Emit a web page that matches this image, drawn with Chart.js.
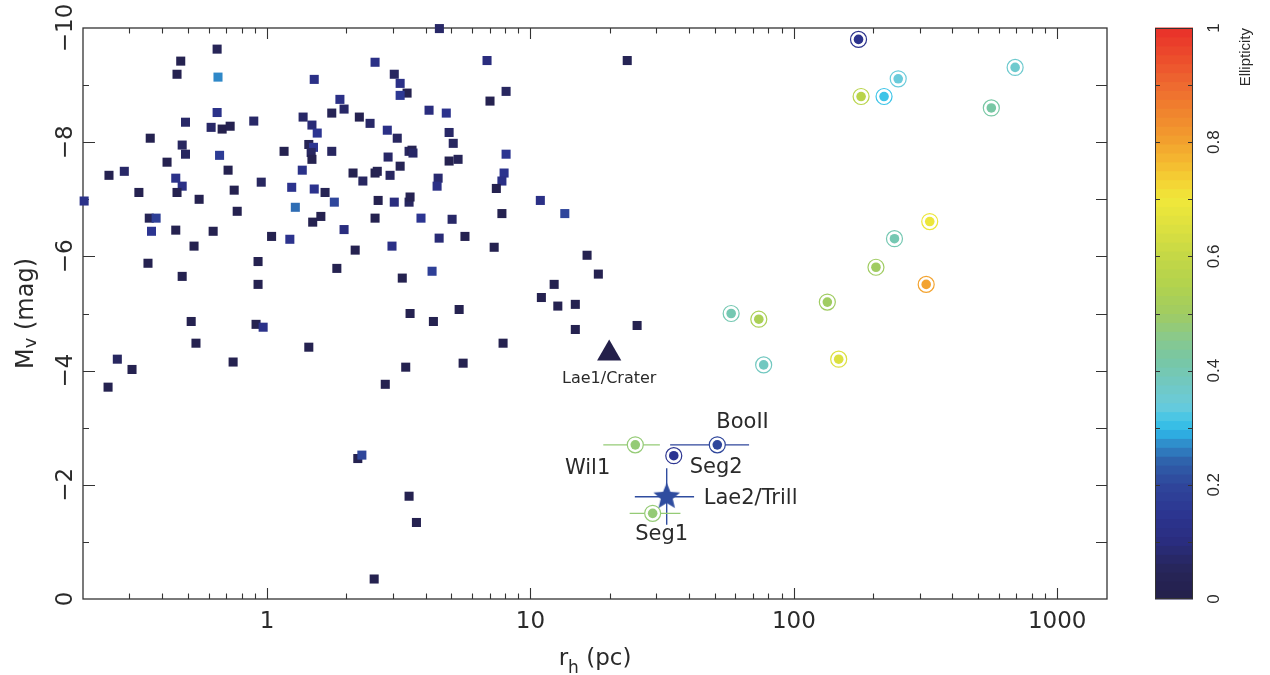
<!DOCTYPE html>
<html>
<head>
<meta charset="utf-8">
<script src="https://cdn.jsdelivr.net/npm/chart.js@4.4.1/dist/chart.umd.min.js"></script>
<style>
  html, body { margin: 0; padding: 0; background: #fff; }
  #wrap { width: 1270px; height: 675px; position: relative; }
</style>
</head>
<body>
<div id="wrap"><canvas id="chart"></canvas></div>
<script>
// globular clusters (squares): half-light radius (pc), M_V (mag), ellipticity
const clusterRh = [
  0.646, 0.47, 0.455, 0.651, 1.51, 2.57, 3.04, 3.20, 3.40, 3.20,
  1.89, 1.96, 1.76, 2.24, 2.46, 0.646, 0.49, 0.613, 0.675, 0.724,
  0.89, 1.37, 1.48, 1.55, 2.86, 3.12, 0.36, 0.476, 0.49, 1.16,
  1.44, 1.50, 1.47, 1.48, 1.76, 0.66, 0.417, 0.711, 0.251, 0.287,
  0.45, 0.476, 0.455, 0.326, 0.552, 0.75, 0.95, 1.36, 1.24, 1.51,
  1.66, 2.12, 2.31, 2.57, 2.62, 2.93, 3.20, 2.88, 3.46, 3.55,
  3.58, 0.202, 1.28, 1.80, 2.64, 3.04, 3.46, 3.49, 0.357, 0.379,
  0.364, 0.45, 0.624, 0.77, 1.49, 1.60, 2.57, 1.96, 1.22, 1.04,
  0.528, 2.16, 2.98, 0.353, 0.924, 1.84, 0.476, 0.924, 3.26, 3.49,
  0.515, 0.908, 0.966, 0.537, 0.27, 0.307, 0.249, 0.743, 1.44, 3.36,
  2.81, 2.21, 2.29, 3.46, 3.69, 2.55, 4.51, 6.84, 23.3, 8.08,
  7.02, 4.12, 4.79, 4.91, 5.09, 8.08, 4.91, 5.31, 4.46, 4.42,
  7.94, 7.79, 7.42, 3.84, 5.04, 10.9, 13.5, 7.79, 5.64, 4.50,
  7.28, 4.23, 16.4, 18.1, 12.3, 11.0, 12.7, 14.8, 5.36, 4.28,
  14.8, 25.4, 7.87, 5.55
];
const clusterMv = [
  -9.63, -9.42, -9.19, -9.14, -9.10, -9.40, -9.19, -9.03, -8.86, -8.82,
  -8.75, -8.58, -8.51, -8.44, -8.33, -8.52, -8.35, -8.26, -8.23, -8.28,
  -8.37, -8.44, -8.30, -8.16, -8.21, -8.07, -8.07, -7.95, -7.79, -7.84,
  -7.96, -7.91, -7.82, -7.70, -7.84, -7.77, -7.65, -7.51, -7.42, -7.49,
  -7.37, -7.23, -7.12, -7.12, -7.00, -7.16, -7.30, -7.51, -7.21, -7.18,
  -7.12, -7.46, -7.32, -7.46, -7.49, -7.42, -7.58, -7.74, -7.84, -7.86,
  -7.81, -6.97, -6.86, -6.95, -6.98, -6.95, -6.95, -7.04, -6.67, -6.67,
  -6.44, -6.46, -6.44, -6.79, -6.60, -6.70, -6.67, -6.47, -6.30, -6.35,
  -6.18, -6.11, -6.18, -5.88, -5.91, -5.79, -5.65, -5.51, -5.62, -5.00,
  -4.86, -4.81, -4.76, -4.48, -4.20, -4.02, -3.71, -4.15, -4.41, -4.06,
  -3.76, -2.46, -2.52, -1.80, -1.34, -0.35, -9.99, -9.43, -9.43, -8.89,
  -8.72, -8.56, -8.51, -8.17, -7.98, -7.79, -7.67, -7.70, -7.37, -7.23,
  -7.46, -7.32, -7.19, -6.67, -6.65, -6.98, -6.75, -6.75, -6.35, -6.32,
  -6.16, -5.74, -6.02, -5.69, -5.51, -5.28, -5.13, -5.16, -5.07, -4.86,
  -4.72, -4.79, -4.48, -4.13
];
const clusterEll = [
  0.05, 0.02, 0.02, 0.27, 0.12, 0.12, 0.06, 0.12, 0.02, 0.16,
  0.12, 0.07, 0.04, 0.02, 0.07, 0.13, 0.07, 0.07, 0.01, 0.02,
  0.07, 0.07, 0.09, 0.15, 0.12, 0.06, 0.02, 0.06, 0.06, 0.02,
  0.04, 0.15, 0.06, 0.02, 0.06, 0.17, 0.02, 0.02, 0.02, 0.07,
  0.13, 0.12, 0.02, 0.02, 0.02, 0.02, 0.06, 0.13, 0.14, 0.14,
  0.04, 0.02, 0.06, 0.02, 0.03, 0.06, 0.04, 0.07, 0.06, 0.03,
  0.07, 0.13, 0.25, 0.20, 0.02, 0.10, 0.06, 0.03, 0.04, 0.18,
  0.15, 0.02, 0.02, 0.02, 0.02, 0.02, 0.02, 0.10, 0.14, 0.02,
  0.02, 0.02, 0.12, 0.02, 0.02, 0.02, 0.02, 0.02, 0.02, 0.02,
  0.02, 0.02, 0.13, 0.02, 0.06, 0.02, 0.02, 0.02, 0.02, 0.02,
  0.02, 0.02, 0.20, 0.02, 0.02, 0.02, 0.07, 0.10, 0.04, 0.06,
  0.02, 0.10, 0.14, 0.07, 0.06, 0.15, 0.02, 0.05, 0.08, 0.12,
  0.14, 0.12, 0.02, 0.15, 0.07, 0.12, 0.20, 0.02, 0.02, 0.09,
  0.02, 0.18, 0.02, 0.02, 0.02, 0.02, 0.02, 0.02, 0.02, 0.02,
  0.02, 0.02, 0.02, 0.02
];

// dwarf galaxies (ringed circles)
const dwarfRh = [176, 692, 249, 180, 220, 562, 328, 241, 205, 318, 134, 57.8, 73.6, 76.8, 148];
const dwarfMv = [-9.80, -9.31, -9.11, -8.80, -8.80, -8.60, -6.61, -6.31, -5.81, -5.51, -5.20, -5.00, -4.90, -4.10, -4.20];
const dwarfEll = [0.14, 0.36, 0.34, 0.57, 0.31, 0.42, 0.69, 0.40, 0.50, 0.80, 0.50, 0.40, 0.53, 0.38, 0.65];

// named faint objects with r_h error bars
const namedLabels = ['Wil1', 'BooII', 'Seg2', 'Seg1'];
const namedRh = [25.0, 51.2, 35.0, 29.1];
const namedMv = [-2.70, -2.70, -2.51, -1.50];
const namedEll = [0.48, 0.20, 0.15, 0.48];
const namedRhLo = [18.9, 33.9, 32.9, 23.8];
const namedRhHi = [31.0, 67.6, 37.5, 37.1];

// Lae2/Trill (star) and Lae1/Crater (triangle)
const lae2Rh = 32.9, lae2Mv = -1.79, lae2Ell = 0.21;
const lae2RhRange = [24.9, 41.8];
const lae2MvRange = [-2.29, -1.30];
const lae1Rh = 19.9, lae1Mv = -4.30;

const xTickLabels = [1, 10, 100, 1000];
const yTickLabels = [0, -2, -4, -6, -8, -10];
const yMinorTicks = [-1, -3, -5, -7, -9];
const cbTickLabels = [0, 0.2, 0.4, 0.6, 0.8, 1];
const cbMinorTicks = [0.1, 0.3, 0.5, 0.7, 0.9];

const cmapStops = [
  [0.00, '#24204a'], [0.05, '#272558'], [0.10, '#2a2d7e'], [0.15, '#2c3591'],
  [0.20, '#2f469b'], [0.24, '#2f60aa'], [0.27, '#2f88c8'], [0.29, '#2eaee2'],
  [0.31, '#3cc4e8'], [0.34, '#6acbdb'], [0.38, '#72c8c0'], [0.42, '#78c7a4'],
  [0.46, '#8ac98a'], [0.50, '#a0cc62'], [0.55, '#b2d24e'], [0.60, '#c4d846'],
  [0.65, '#dce040'], [0.70, '#f0e83a'], [0.73, '#f4d434'], [0.77, '#f4b630'],
  [0.81, '#f29c2e'], [0.86, '#f0802e'], [0.90, '#ee6a30'], [0.95, '#ec4c2c'],
  [1.00, '#e8302a']
];

function hexRgb(h) {
  return [parseInt(h.slice(1, 3), 16), parseInt(h.slice(3, 5), 16), parseInt(h.slice(5, 7), 16)];
}

function cmap(v) {
  v = Math.max(0, Math.min(1, v));
  for (let i = 1; i < cmapStops.length; i++) {
    if (v <= cmapStops[i][0]) {
      const [v0, c0] = cmapStops[i - 1];
      const [v1, c1] = cmapStops[i];
      const t = (v - v0) / (v1 - v0);
      const a = hexRgb(c0), b = hexRgb(c1);
      return 'rgb(' + a.map((k, j) => Math.round(k + (b[j] - k) * t)).join(',') + ')';
    }
  }
  return cmapStops[cmapStops.length - 1][1];
}

function starImage(R, color) {
  const c = document.createElement('canvas');
  c.width = c.height = 2 * R + 2;
  const g = c.getContext('2d');
  g.fillStyle = color;
  g.beginPath();
  for (let i = 0; i < 10; i++) {
    const r = i % 2 ? R * 0.45 : R;
    const ang = -Math.PI / 2 + i * Math.PI / 5;
    g.lineTo(R + 1 + r * Math.cos(ang), R + 1 + r * Math.sin(ang));
  }
  g.closePath();
  g.fill();
  return c;
}

const FONT = '"DejaVu Sans", sans-serif';
const INK = '#2a2a2a';

const pts = (xs, ys) => xs.map((v, i) => ({ x: v, y: ys[i] }));

function errLine(data, color) {
  return {
    data: data, showLine: true, borderColor: color, borderWidth: 1.4,
    pointRadius: 0, fill: false, order: 10, clip: false
  };
}

const datasets = [];
// star and triangle on top
datasets.push({
  data: [{ x: lae2Rh, y: lae2Mv }], pointStyle: starImage(14, cmap(lae2Ell)),
  pointRadius: 14, order: 0
});
datasets.push({
  data: [{ x: lae1Rh, y: lae1Mv }], pointStyle: 'triangle', pointRadius: 14,
  backgroundColor: cmap(0), borderColor: cmap(0), borderWidth: 0, order: 0
});
// ringed circles: inner fill then white disc with coloured ring
const ringRh = dwarfRh.concat(namedRh);
const ringMv = dwarfMv.concat(namedMv);
const ringCol = dwarfEll.concat(namedEll).map(cmap);
datasets.push({
  data: pts(ringRh, ringMv), pointRadius: 4.8, backgroundColor: ringCol,
  borderWidth: 0, order: 1
});
datasets.push({
  data: pts(ringRh, ringMv), pointRadius: 8, backgroundColor: '#ffffff',
  borderColor: ringCol, borderWidth: 1.2, order: 2
});
// clusters
datasets.push({
  data: pts(clusterRh, clusterMv), pointStyle: 'rect', pointRadius: 6.4,
  backgroundColor: clusterEll.map(cmap), borderWidth: 0, order: 3, clip: false
});
// error bars
namedRh.forEach((r, i) => {
  datasets.push(errLine([{ x: namedRhLo[i], y: namedMv[i] }, { x: namedRhHi[i], y: namedMv[i] }], cmap(namedEll[i])));
});
datasets.push(errLine([{ x: lae2RhRange[0], y: lae2Mv }, { x: lae2RhRange[1], y: lae2Mv }], cmap(lae2Ell)));
datasets.push(errLine([{ x: lae2Rh, y: lae2MvRange[0] }, { x: lae2Rh, y: lae2MvRange[1] }], cmap(lae2Ell)));

function rotText(ctx, text, x, y, align) {
  ctx.save();
  ctx.translate(x, y);
  ctx.rotate(-Math.PI / 2);
  ctx.textAlign = align || 'center';
  ctx.textBaseline = 'alphabetic';
  ctx.fillText(text, 0, 0);
  ctx.restore();
}

const framePlugin = {
  id: 'frame',
  beforeDatasetsDraw(chart) {
    const { ctx, chartArea: a, scales: { x, y } } = chart;
    ctx.save();
    ctx.strokeStyle = '#333';
    ctx.lineWidth = 1.3;
    ctx.strokeRect(a.left, a.top, a.right - a.left, a.bottom - a.top);
    ctx.beginPath();
    ctx.lineWidth = 1.1;
    for (let d = -1; d <= 3; d++) {
      for (let m = 1; m <= 9; m++) {
        const v = m * Math.pow(10, d);
        if (v <= x.min || v >= x.max) continue;
        const px = Math.round(x.getPixelForValue(v)) + 0.5;
        const len = m === 1 ? 11 : 5.5;
        ctx.moveTo(px, a.bottom); ctx.lineTo(px, a.bottom - len);
        ctx.moveTo(px, a.top); ctx.lineTo(px, a.top + len);
      }
    }
    yTickLabels.concat(yMinorTicks).forEach(v => {
      if (v <= y.min || v >= y.max) return;
      const py = Math.round(y.getPixelForValue(v)) + 0.5;
      const len = yTickLabels.includes(v) ? 12 : 6;
      ctx.moveTo(a.left, py); ctx.lineTo(a.left + len, py);
      ctx.moveTo(a.right, py); ctx.lineTo(a.right - 11, py);
    });
    ctx.stroke();

    // tick labels
    ctx.fillStyle = INK;
    ctx.font = '23px ' + FONT;
    ctx.textAlign = 'center';
    ctx.textBaseline = 'alphabetic';
    xTickLabels.forEach(v => ctx.fillText(String(v), x.getPixelForValue(v), 628));
    yTickLabels.forEach(v => {
      const t = v === 0 ? '0' : '\u2212' + Math.abs(v);
      rotText(ctx, t, 72, y.getPixelForValue(v));
    });

    // x title: r_h (pc)
    const cx = (a.left + a.right) / 2;
    ctx.font = '23px ' + FONT;
    const wr = ctx.measureText('r').width;
    const wp = ctx.measureText(' (pc)').width;
    ctx.font = '17px ' + FONT;
    const wh = ctx.measureText('h').width;
    let sx = cx - (wr + wh + wp) / 2;
    ctx.textAlign = 'left';
    ctx.font = '23px ' + FONT;
    ctx.fillText('r', sx, 665);
    ctx.font = '17px ' + FONT;
    ctx.fillText('h', sx + wr, 673);
    ctx.font = '23px ' + FONT;
    ctx.fillText(' (pc)', sx + wr + wh, 665);

    // y title: M_V (mag)
    const cy = (a.top + a.bottom) / 2;
    ctx.save();
    ctx.translate(33, cy);
    ctx.rotate(-Math.PI / 2);
    ctx.font = '24px ' + FONT;
    const wm = ctx.measureText('M').width;
    const wg = ctx.measureText(' (mag)').width;
    ctx.font = '18px ' + FONT;
    const wv = ctx.measureText('v').width;
    const s = -(wm + wv + wg) / 2;
    ctx.textAlign = 'left';
    ctx.font = '24px ' + FONT;
    ctx.fillText('M', s, 0);
    ctx.font = '18px ' + FONT;
    ctx.fillText('v', s + wm, 3);
    ctx.font = '24px ' + FONT;
    ctx.fillText(' (mag)', s + wm + wv, 0);
    ctx.restore();

    // colour bar
    const bx0 = 1155, bx1 = 1193;
    const n = 64;
    const h = (a.bottom - a.top) / n;
    for (let i = 0; i < n; i++) {
      ctx.fillStyle = cmap((i + 0.5) / n);
      ctx.fillRect(bx0, a.bottom - (i + 1) * h - 0.5, bx1 - bx0, h + 1);
    }
    ctx.strokeStyle = '#333';
    ctx.lineWidth = 1;
    ctx.strokeRect(bx0 + 0.5, a.top + 0.5, bx1 - bx0 - 1, a.bottom - a.top - 1);
    const cbY = v => a.bottom - v * (a.bottom - a.top);
    ctx.beginPath();
    cbTickLabels.concat(cbMinorTicks).forEach(v => {
      if (v <= 0 || v >= 1) return;
      const py = Math.round(cbY(v)) + 0.5;
      ctx.moveTo(bx0, py); ctx.lineTo(bx0 + 5, py);
      ctx.moveTo(bx1, py); ctx.lineTo(bx1 - 5, py);
    });
    ctx.stroke();
    ctx.fillStyle = INK;
    ctx.font = '17px "Liberation Sans", Arial, sans-serif';
    cbTickLabels.forEach(v => rotText(ctx, String(v), 1219, cbY(v)));
    ctx.font = '15px "Liberation Sans", Arial, sans-serif';
    rotText(ctx, 'Ellipticity', 1250, a.top, 'right');
    ctx.restore();
  },
  afterDatasetsDraw(chart) {
    const { ctx, scales: { x, y } } = chart;
    ctx.save();
    ctx.fillStyle = INK;
    ctx.textBaseline = 'alphabetic';
    const put = (t, r, m, dx, dy, align, size) => {
      ctx.font = size + 'px ' + FONT;
      ctx.textAlign = align;
      ctx.fillText(t, x.getPixelForValue(r) + dx, y.getPixelForValue(m) + dy);
    };
    put('Lae1/Crater', lae1Rh, lae1Mv, 0, 29.5, 'center', 16);
    put('Lae2/Trill', lae2Rh, lae2Mv, 37, 7, 'left', 21);
    const offs = [[-25, 29, 'right'], [-1, -17, 'left'], [16, 17, 'left'], [9, 27, 'center']];
    namedLabels.forEach((t, i) => put(t, namedRh[i], namedMv[i], offs[i][0], offs[i][1], offs[i][2], 21));
    ctx.restore();
  }
};

new Chart(document.getElementById('chart'), {
  type: 'scatter',
  data: { datasets: datasets },
  options: {
    responsive: true,
    maintainAspectRatio: false,
    animation: false,
    layout: { padding: { left: 83, right: 163, top: 28, bottom: 76 } },
    plugins: { legend: { display: false }, tooltip: { enabled: false } },
    scales: {
      x: { type: 'logarithmic', min: 0.2, max: 1545, display: false },
      y: { type: 'linear', min: -10, max: 0, reverse: true, display: false }
    }
  },
  plugins: [framePlugin]
});
</script>
</body>
</html>
